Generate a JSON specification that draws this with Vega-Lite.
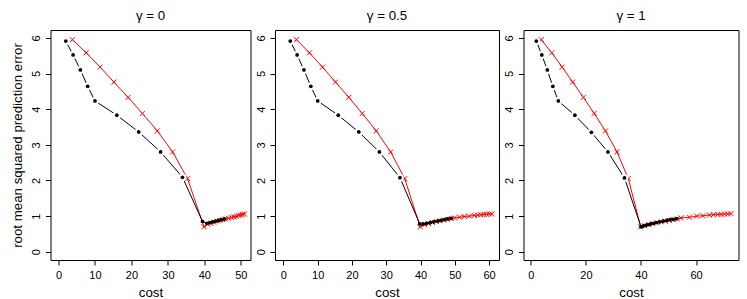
{
  "$schema": "https://vega.github.io/schema/vega-lite/v6.json",
  "padding": {"left": 9.5, "top": 8, "right": 0, "bottom": 0},
  "bounds": "flush",
  "spacing": 24.5,
  "background": "white",
  "config": {
    "view": {"stroke": "#000", "strokeWidth": 1},
    "axis": {"domain": false, "grid": false, "ticks": true, "tickColor": "#000", "tickSize": 5, "labelFont": "Liberation Sans", "labelFontSize": 11, "labelColor": "#000", "labelPadding": 4, "titleFont": "Liberation Sans", "titleFontSize": 13.3, "titleFontWeight": "normal", "titleColor": "#000", "labelFlush": false, "labelOverlap": false},
    "axisY": {"labelAngle": -90, "labelAlign": "center", "labelBaseline": "bottom", "titlePadding": 6},
    "axisX": {"titlePadding": 5},
    "title": {"font": "Liberation Sans", "fontSize": 13.3, "fontWeight": "normal", "color": "#000", "offset": 8, "frame": "group", "anchor": "middle"}
  },
  "datasets": {
    "d": [
      {"g": "0", "m": "A", "cost": 2, "rmse": 5.91}, {"g": "0", "m": "A", "cost": 4, "rmse": 5.52}, {"g": "0", "m": "A", "cost": 6, "rmse": 5.1}, {"g": "0", "m": "A", "cost": 8, "rmse": 4.64}, {"g": "0", "m": "A", "cost": 10, "rmse": 4.23}, {"g": "0", "m": "A", "cost": 16, "rmse": 3.83}, {"g": "0", "m": "A", "cost": 22, "rmse": 3.36}, {"g": "0", "m": "A", "cost": 28, "rmse": 2.8}, {"g": "0", "m": "A", "cost": 34, "rmse": 2.09},
      {"g": "0", "m": "A", "cost": 39.5, "rmse": 0.85}, {"g": "0", "m": "A", "cost": 40.7, "rmse": 0.8}, {"g": "0", "m": "A", "cost": 41.5, "rmse": 0.82}, {"g": "0", "m": "A", "cost": 42.3, "rmse": 0.84}, {"g": "0", "m": "A", "cost": 43.1, "rmse": 0.86}, {"g": "0", "m": "A", "cost": 43.9, "rmse": 0.88}, {"g": "0", "m": "A", "cost": 44.7, "rmse": 0.9}, {"g": "0", "m": "A", "cost": 45.5, "rmse": 0.92},
      {"g": "0", "m": "B", "cost": 3.8, "rmse": 5.95}, {"g": "0", "m": "B", "cost": 7.6, "rmse": 5.58}, {"g": "0", "m": "B", "cost": 11.4, "rmse": 5.18}, {"g": "0", "m": "B", "cost": 15.2, "rmse": 4.76}, {"g": "0", "m": "B", "cost": 19.1, "rmse": 4.33}, {"g": "0", "m": "B", "cost": 23, "rmse": 3.88}, {"g": "0", "m": "B", "cost": 27.1, "rmse": 3.39}, {"g": "0", "m": "B", "cost": 31.3, "rmse": 2.8}, {"g": "0", "m": "B", "cost": 35.4, "rmse": 2.05}, {"g": "0", "m": "B", "cost": 39.9, "rmse": 0.7},
      {"g": "0", "m": "B", "cost": 40.9, "rmse": 0.77}, {"g": "0", "m": "B", "cost": 41.8, "rmse": 0.8}, {"g": "0", "m": "B", "cost": 42.6, "rmse": 0.83}, {"g": "0", "m": "B", "cost": 43.4, "rmse": 0.86}, {"g": "0", "m": "B", "cost": 44.2, "rmse": 0.88}, {"g": "0", "m": "B", "cost": 45, "rmse": 0.9}, {"g": "0", "m": "B", "cost": 45.8, "rmse": 0.92}, {"g": "0", "m": "B", "cost": 46.6, "rmse": 0.94}, {"g": "0", "m": "B", "cost": 47.4, "rmse": 0.96}, {"g": "0", "m": "B", "cost": 48.1, "rmse": 0.98}, {"g": "0", "m": "B", "cost": 48.8, "rmse": 1.0}, {"g": "0", "m": "B", "cost": 49.4, "rmse": 1.02}, {"g": "0", "m": "B", "cost": 50, "rmse": 1.03}, {"g": "0", "m": "B", "cost": 50.5, "rmse": 1.05}, {"g": "0", "m": "B", "cost": 51, "rmse": 1.06},

      {"g": "0.5", "m": "A", "cost": 2, "rmse": 5.91}, {"g": "0.5", "m": "A", "cost": 4, "rmse": 5.52}, {"g": "0.5", "m": "A", "cost": 6, "rmse": 5.1}, {"g": "0.5", "m": "A", "cost": 8, "rmse": 4.64}, {"g": "0.5", "m": "A", "cost": 10, "rmse": 4.23}, {"g": "0.5", "m": "A", "cost": 16, "rmse": 3.83}, {"g": "0.5", "m": "A", "cost": 22, "rmse": 3.36}, {"g": "0.5", "m": "A", "cost": 28, "rmse": 2.8}, {"g": "0.5", "m": "A", "cost": 34, "rmse": 2.08},
      {"g": "0.5", "m": "A", "cost": 39.8, "rmse": 0.78}, {"g": "0.5", "m": "A", "cost": 40.8, "rmse": 0.78}, {"g": "0.5", "m": "A", "cost": 41.8, "rmse": 0.8}, {"g": "0.5", "m": "A", "cost": 42.8, "rmse": 0.82}, {"g": "0.5", "m": "A", "cost": 43.8, "rmse": 0.84}, {"g": "0.5", "m": "A", "cost": 44.9, "rmse": 0.86}, {"g": "0.5", "m": "A", "cost": 45.9, "rmse": 0.88}, {"g": "0.5", "m": "A", "cost": 46.9, "rmse": 0.9}, {"g": "0.5", "m": "A", "cost": 47.9, "rmse": 0.92}, {"g": "0.5", "m": "A", "cost": 48.9, "rmse": 0.94},
      {"g": "0.5", "m": "B", "cost": 3.8, "rmse": 5.95}, {"g": "0.5", "m": "B", "cost": 7.6, "rmse": 5.58}, {"g": "0.5", "m": "B", "cost": 11.4, "rmse": 5.18}, {"g": "0.5", "m": "B", "cost": 15.2, "rmse": 4.76}, {"g": "0.5", "m": "B", "cost": 19.1, "rmse": 4.33}, {"g": "0.5", "m": "B", "cost": 23, "rmse": 3.88}, {"g": "0.5", "m": "B", "cost": 27.1, "rmse": 3.39}, {"g": "0.5", "m": "B", "cost": 31.3, "rmse": 2.8}, {"g": "0.5", "m": "B", "cost": 35.4, "rmse": 2.05}, {"g": "0.5", "m": "B", "cost": 39.9, "rmse": 0.7},
      {"g": "0.5", "m": "B", "cost": 41.2, "rmse": 0.76}, {"g": "0.5", "m": "B", "cost": 42.3, "rmse": 0.79}, {"g": "0.5", "m": "B", "cost": 43.5, "rmse": 0.82}, {"g": "0.5", "m": "B", "cost": 44.6, "rmse": 0.85}, {"g": "0.5", "m": "B", "cost": 45.7, "rmse": 0.87}, {"g": "0.5", "m": "B", "cost": 46.8, "rmse": 0.89}, {"g": "0.5", "m": "B", "cost": 47.9, "rmse": 0.91}, {"g": "0.5", "m": "B", "cost": 49, "rmse": 0.93}, {"g": "0.5", "m": "B", "cost": 49.9, "rmse": 0.95}, {"g": "0.5", "m": "B", "cost": 51.4, "rmse": 0.97}, {"g": "0.5", "m": "B", "cost": 52.8, "rmse": 0.99}, {"g": "0.5", "m": "B", "cost": 54.3, "rmse": 1.0}, {"g": "0.5", "m": "B", "cost": 55.7, "rmse": 1.02}, {"g": "0.5", "m": "B", "cost": 56.7, "rmse": 1.03}, {"g": "0.5", "m": "B", "cost": 57.6, "rmse": 1.04}, {"g": "0.5", "m": "B", "cost": 58.5, "rmse": 1.05}, {"g": "0.5", "m": "B", "cost": 59.3, "rmse": 1.05}, {"g": "0.5", "m": "B", "cost": 60.1, "rmse": 1.06}, {"g": "0.5", "m": "B", "cost": 60.8, "rmse": 1.06},

      {"g": "1", "m": "A", "cost": 2, "rmse": 5.91}, {"g": "1", "m": "A", "cost": 4, "rmse": 5.52}, {"g": "1", "m": "A", "cost": 6, "rmse": 5.1}, {"g": "1", "m": "A", "cost": 8, "rmse": 4.64}, {"g": "1", "m": "A", "cost": 10, "rmse": 4.23}, {"g": "1", "m": "A", "cost": 16, "rmse": 3.83}, {"g": "1", "m": "A", "cost": 22, "rmse": 3.35}, {"g": "1", "m": "A", "cost": 28, "rmse": 2.8}, {"g": "1", "m": "A", "cost": 34, "rmse": 2.07},
      {"g": "1", "m": "A", "cost": 40, "rmse": 0.7}, {"g": "1", "m": "A", "cost": 40.8, "rmse": 0.72}, {"g": "1", "m": "A", "cost": 41.6, "rmse": 0.74}, {"g": "1", "m": "A", "cost": 42.5, "rmse": 0.76}, {"g": "1", "m": "A", "cost": 43.5, "rmse": 0.78}, {"g": "1", "m": "A", "cost": 44.5, "rmse": 0.8}, {"g": "1", "m": "A", "cost": 45.6, "rmse": 0.82}, {"g": "1", "m": "A", "cost": 46.8, "rmse": 0.84}, {"g": "1", "m": "A", "cost": 48, "rmse": 0.86}, {"g": "1", "m": "A", "cost": 49.3, "rmse": 0.88}, {"g": "1", "m": "A", "cost": 50.5, "rmse": 0.9}, {"g": "1", "m": "A", "cost": 51.7, "rmse": 0.91}, {"g": "1", "m": "A", "cost": 52.9, "rmse": 0.93},
      {"g": "1", "m": "B", "cost": 3.8, "rmse": 5.95}, {"g": "1", "m": "B", "cost": 7.6, "rmse": 5.58}, {"g": "1", "m": "B", "cost": 11.4, "rmse": 5.18}, {"g": "1", "m": "B", "cost": 15.2, "rmse": 4.76}, {"g": "1", "m": "B", "cost": 19.1, "rmse": 4.33}, {"g": "1", "m": "B", "cost": 23, "rmse": 3.88}, {"g": "1", "m": "B", "cost": 27.1, "rmse": 3.39}, {"g": "1", "m": "B", "cost": 31.3, "rmse": 2.8}, {"g": "1", "m": "B", "cost": 35.4, "rmse": 2.05}, {"g": "1", "m": "B", "cost": 39.9, "rmse": 0.7},
      {"g": "1", "m": "B", "cost": 41.3, "rmse": 0.73}, {"g": "1", "m": "B", "cost": 42.8, "rmse": 0.76}, {"g": "1", "m": "B", "cost": 44.3, "rmse": 0.79}, {"g": "1", "m": "B", "cost": 45.8, "rmse": 0.82}, {"g": "1", "m": "B", "cost": 47.3, "rmse": 0.84}, {"g": "1", "m": "B", "cost": 48.8, "rmse": 0.86}, {"g": "1", "m": "B", "cost": 50.3, "rmse": 0.88}, {"g": "1", "m": "B", "cost": 51.8, "rmse": 0.9}, {"g": "1", "m": "B", "cost": 53, "rmse": 0.92}, {"g": "1", "m": "B", "cost": 54.5, "rmse": 0.95}, {"g": "1", "m": "B", "cost": 57.6, "rmse": 0.97}, {"g": "1", "m": "B", "cost": 60.2, "rmse": 1.0}, {"g": "1", "m": "B", "cost": 62.4, "rmse": 1.01}, {"g": "1", "m": "B", "cost": 64.8, "rmse": 1.03}, {"g": "1", "m": "B", "cost": 66.3, "rmse": 1.04}, {"g": "1", "m": "B", "cost": 67.9, "rmse": 1.05}, {"g": "1", "m": "B", "cost": 69.1, "rmse": 1.05}, {"g": "1", "m": "B", "cost": 70.3, "rmse": 1.06}, {"g": "1", "m": "B", "cost": 71.5, "rmse": 1.06}, {"g": "1", "m": "B", "cost": 72.7, "rmse": 1.07}
    ]
  },
  "hconcat": [
    {
      "width": 200, "height": 230,
      "title": "γ = 0",
      "data": {"name": "d"},
      "transform": [{"filter": "datum.g == '0'"}],
      "encoding": {
        "x": {"field": "cost", "type": "quantitative", "scale": {"domain": [-2.2, 52.66], "nice": false, "zero": false}, "axis": {"values": [0, 10, 20, 30, 40, 50], "title": "cost"}},
        "y": {"field": "rmse", "type": "quantitative", "scale": {"domain": [-0.23, 6.22], "nice": false, "zero": false}, "axis": {"values": [0, 1, 2, 3, 4, 5, 6], "title": "root mean squared prediction error"}}
      },
      "layer": [
        {"transform": [{"filter": "datum.m == 'B'"}], "mark": {"type": "line", "color": "#ff0000", "strokeWidth": 1}},
        {"transform": [{"filter": "datum.m == 'B'"}], "mark": {"type": "point", "shape": "M-1,-1L1,1M-1,1L1,-1", "size": 25, "stroke": "#ff0000", "strokeWidth": 1, "filled": false, "opacity": 1}},
        {"transform": [{"filter": "datum.m == 'A'"}], "mark": {"type": "line", "color": "#000000", "strokeWidth": 1}},
        {"transform": [{"filter": "datum.m == 'A' && datum.cost < 39"}], "mark": {"type": "circle", "color": "#ffffff", "size": 60, "opacity": 1}},
        {"transform": [{"filter": "datum.m == 'A'"}], "mark": {"type": "circle", "color": "#000000", "size": 14, "opacity": 1}}
      ]
    },
    {
      "width": 224, "height": 230,
      "title": "γ = 0.5",
      "data": {"name": "d"},
      "transform": [{"filter": "datum.g == '0.5'"}],
      "encoding": {
        "x": {"field": "cost", "type": "quantitative", "scale": {"domain": [-2.45, 62.9], "nice": false, "zero": false}, "axis": {"values": [0, 10, 20, 30, 40, 50, 60], "title": "cost"}},
        "y": {"field": "rmse", "type": "quantitative", "scale": {"domain": [-0.23, 6.22], "nice": false, "zero": false}, "axis": {"values": [0, 1, 2, 3, 4, 5, 6], "title": null}}
      },
      "layer": [
        {"transform": [{"filter": "datum.m == 'B'"}], "mark": {"type": "line", "color": "#ff0000", "strokeWidth": 1}},
        {"transform": [{"filter": "datum.m == 'B'"}], "mark": {"type": "point", "shape": "M-1,-1L1,1M-1,1L1,-1", "size": 25, "stroke": "#ff0000", "strokeWidth": 1, "filled": false, "opacity": 1}},
        {"transform": [{"filter": "datum.m == 'A'"}], "mark": {"type": "line", "color": "#000000", "strokeWidth": 1}},
        {"transform": [{"filter": "datum.m == 'A' && datum.cost < 39"}], "mark": {"type": "circle", "color": "#ffffff", "size": 60, "opacity": 1}},
        {"transform": [{"filter": "datum.m == 'A'"}], "mark": {"type": "circle", "color": "#000000", "size": 14, "opacity": 1}}
      ]
    },
    {
      "width": 215, "height": 230,
      "title": "γ = 1",
      "data": {"name": "d"},
      "transform": [{"filter": "datum.g == '1'"}],
      "encoding": {
        "x": {"field": "cost", "type": "quantitative", "scale": {"domain": [-2.65, 75.4], "nice": false, "zero": false}, "axis": {"values": [0, 20, 40, 60], "title": "cost"}},
        "y": {"field": "rmse", "type": "quantitative", "scale": {"domain": [-0.23, 6.22], "nice": false, "zero": false}, "axis": {"values": [0, 1, 2, 3, 4, 5, 6], "title": null}}
      },
      "layer": [
        {"transform": [{"filter": "datum.m == 'B'"}], "mark": {"type": "line", "color": "#ff0000", "strokeWidth": 1}},
        {"transform": [{"filter": "datum.m == 'B'"}], "mark": {"type": "point", "shape": "M-1,-1L1,1M-1,1L1,-1", "size": 25, "stroke": "#ff0000", "strokeWidth": 1, "filled": false, "opacity": 1}},
        {"transform": [{"filter": "datum.m == 'A'"}], "mark": {"type": "line", "color": "#000000", "strokeWidth": 1}},
        {"transform": [{"filter": "datum.m == 'A' && datum.cost < 39"}], "mark": {"type": "circle", "color": "#ffffff", "size": 60, "opacity": 1}},
        {"transform": [{"filter": "datum.m == 'A'"}], "mark": {"type": "circle", "color": "#000000", "size": 14, "opacity": 1}}
      ]
    }
  ]
}
